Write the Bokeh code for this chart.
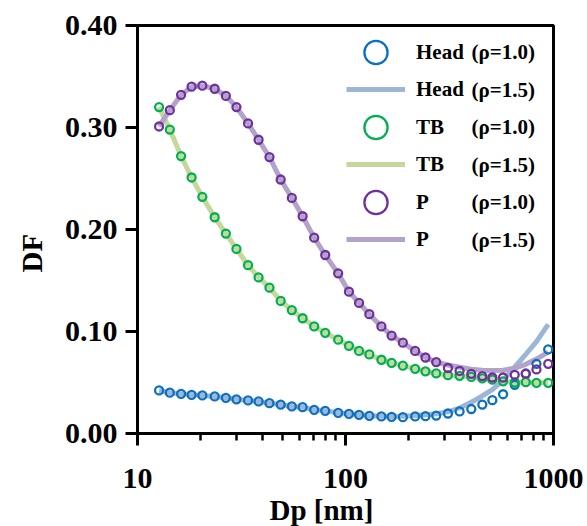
from bokeh.plotting import figure
from bokeh.models import (Range1d, FixedTicker, CustomJSTickFormatter, PrintfTickFormatter,
                          Legend, LegendItem, Label, Title)
from bokeh.embed import file_html
from bokeh.resources import INLINE

# ---- data ----
dp_nm = [12.7, 14.3, 16.2, 18.2, 20.5, 23.5, 26.6, 29.9, 34.0, 38.2, 43.1, 48.8,
         55.2, 62.2, 70.7, 79.9, 92.2, 103.9, 116.2, 130.2, 148.8, 166.6, 188.7, 216.2,
         242.4, 273.0, 310.8, 353.6, 402.5, 454.8, 508.2, 572.2, 651.0, 735.5, 828.1, 943.0]

head_rho10 = [0.0422, 0.0400, 0.0389, 0.0379, 0.0373, 0.0363, 0.0350, 0.0335, 0.0324, 0.0314,
              0.0297, 0.0284, 0.0265, 0.0258, 0.0232, 0.0222, 0.0203, 0.0193, 0.0183, 0.0173,
              0.0167, 0.0163, 0.0160, 0.0167, 0.0170, 0.0176, 0.0196, 0.0216, 0.0240, 0.0284,
              0.0327, 0.0385, 0.0478, 0.0585, 0.0683, 0.0824]
head_rho15 = [0.0422, 0.0400, 0.0389, 0.0379, 0.0373, 0.0363, 0.0350, 0.0335, 0.0324, 0.0314,
              0.0297, 0.0284, 0.0265, 0.0258, 0.0232, 0.0222, 0.0203, 0.0193, 0.0183, 0.0173,
              0.0168, 0.0167, 0.0170, 0.0176, 0.0183, 0.0193, 0.0212, 0.0250, 0.0306, 0.0368,
              0.0430, 0.0520, 0.0652, 0.0776, 0.0900, 0.1070]
tb_rho10 = [0.320, 0.298, 0.272, 0.251, 0.232, 0.212, 0.196, 0.181, 0.165, 0.153, 0.143, 0.130,
            0.121, 0.113, 0.105, 0.0987, 0.092, 0.086, 0.081, 0.0775, 0.0723, 0.0693, 0.0665,
            0.0634, 0.0610, 0.0590, 0.0572, 0.0565, 0.0555, 0.0540, 0.0528, 0.0512, 0.0500,
            0.0503, 0.0497, 0.0497]
tb_rho15 = [0.320, 0.298, 0.272, 0.251, 0.232, 0.212, 0.196, 0.181, 0.165, 0.153, 0.143, 0.130,
            0.121, 0.113, 0.105, 0.0987, 0.092, 0.086, 0.081, 0.0775, 0.0723, 0.0693, 0.0665,
            0.0634, 0.0610, 0.0590, 0.0572, 0.0565, 0.0555, 0.0540, 0.0528, 0.0512, 0.0500,
            0.0503, 0.0497, 0.0497]
p_rho10 = [0.301, 0.317, 0.332, 0.340, 0.341, 0.338, 0.331, 0.320, 0.304, 0.288, 0.271, 0.249,
           0.231, 0.213, 0.192, 0.175, 0.157, 0.139, 0.128, 0.117, 0.105, 0.096, 0.089, 0.081,
           0.0745, 0.0700, 0.0642, 0.0613, 0.0585, 0.0563, 0.0549, 0.0549, 0.0575, 0.0588,
           0.0628, 0.0683]
p_rho15 = [0.301, 0.317, 0.332, 0.340, 0.341, 0.338, 0.331, 0.320, 0.304, 0.288, 0.271, 0.249,
           0.231, 0.213, 0.192, 0.175, 0.157, 0.139, 0.128, 0.117, 0.105, 0.096, 0.089, 0.081,
           0.0745, 0.0700, 0.0672, 0.0650, 0.0630, 0.0620, 0.0618, 0.0620, 0.0640, 0.0678,
           0.0730, 0.0797]

x_major_ticks = [10, 100, 1000]
x_minor_ticks = [20, 30, 40, 50, 60, 70, 80, 90, 200, 300, 400, 500, 600, 700, 800, 900]
y_ticks = [0.0, 0.1, 0.2, 0.3, 0.4]

legend_names = ["Head", "Head", "TB", "TB", "P", "P"]
legend_rho = ["(\u03c1=1.0)", "(\u03c1=1.5)", "(\u03c1=1.0)", "(\u03c1=1.5)", "(\u03c1=1.0)", "(\u03c1=1.5)"]

# ---- styles ----
HEAD_C, HEAD_L = "#0A70C0", "#9DB6D8"
TB_C, TB_L = "#00B050", "#C4D89C"
P_C, P_L = "#7030A0", "#B3A3C9"
FONT = "Liberation Serif"

W, H = 587, 526
p = figure(width=W, height=H, x_axis_type="log",
           x_range=Range1d(10, 1000), y_range=Range1d(0, 0.4),
           output_backend="svg", toolbar_location=None,
           min_border_left=137, min_border_right=W - 553, min_border_top=25,
           min_border_bottom=H - 433)
p.grid.visible = False
p.outline_line_color = "black"
p.outline_line_width = 3
p.background_fill_color = "white"
p.border_fill_color = "white"

# lines (rho=1.5) below circles (rho=1.0)
r_hl = p.line(dp_nm, head_rho15, line_color=HEAD_L, line_width=5)
r_tl = p.line(dp_nm, tb_rho15, line_color=TB_L, line_width=5)
r_pl = p.line(dp_nm, p_rho15, line_color=P_L, line_width=5)
r_hc = p.scatter(dp_nm, head_rho10, marker="circle", size=8, fill_color=None, line_color=HEAD_C, line_width=2.3)
r_tc = p.scatter(dp_nm, tb_rho10, marker="circle", size=8, fill_color=None, line_color=TB_C, line_width=2.3)
r_pc = p.scatter(dp_nm, p_rho10, marker="circle", size=8, fill_color=None, line_color=P_C, line_width=2.3)

# axes
xa = p.xaxis[0]
xa.ticker = FixedTicker(ticks=x_major_ticks, minor_ticks=x_minor_ticks)
xa.formatter = CustomJSTickFormatter(code="return String(Math.round(tick));")
ya = p.yaxis[0]
ya.ticker = FixedTicker(ticks=y_ticks, minor_ticks=[])
ya.formatter = PrintfTickFormatter(format="%.2f")
for ax in (xa, ya):
    ax.axis_line_width = 3
    ax.axis_line_color = "black"
    ax.major_tick_line_width = 3
    ax.major_tick_line_color = "black"
    ax.major_tick_out = 12
    ax.major_tick_in = 0
    ax.major_label_text_font = FONT
    ax.major_label_text_font_style = "bold"
    ax.major_label_text_font_size = "30px"
    ax.major_label_text_color = "black"
xa.minor_tick_line_width = 2.5
xa.minor_tick_line_color = "black"
xa.minor_tick_out = 7
xa.minor_tick_in = 0
xa.major_label_standoff = 23
ya.minor_tick_line_color = None
ya.major_label_standoff = 8

# axis titles (side titles, offset along the frame like the reference)
p.add_layout(Title(text="Dp [nm]", align="left", offset=132, standoff=2,
                   vertical_align="bottom",
                   text_font=FONT, text_font_style="bold", text_font_size="29px",
                   text_color="black"), "below")
p.add_layout(Title(text="DF", align="left", offset=161, standoff=24,
                   vertical_align="top",
                   text_font=FONT, text_font_style="bold", text_font_size="29px",
                   text_color="black"), "left")

# legend: one single-row legend per entry, so rows can sit closer than the icon box
GLYPH_H = 58
PITCH = 37.5
LEG_X = 209
FIRST_ROW_CENTER = 381.3   # screen px above frame bottom
icon_renderers = [r_hc, r_hl, r_tc, r_tl, r_pc, r_pl]
for i, (nm, r, rho) in enumerate(zip(legend_names, icon_renderers, legend_rho)):
    yc = FIRST_ROW_CENTER - i * PITCH
    lg = Legend(items=[LegendItem(label=nm, renderers=[r])],
                location=(LEG_X, int(round(yc - GLYPH_H / 2))), orientation="vertical",
                glyph_width=59, glyph_height=GLYPH_H, label_standoff=11,
                label_height=20, padding=0, margin=0,
                border_line_color=None, background_fill_alpha=0,
                label_text_font=FONT, label_text_font_style="bold",
                label_text_font_size="21px", label_text_color="black")
    p.add_layout(lg)
    p.add_layout(Label(x=334, y=yc, x_units="screen", y_units="screen", text=rho,
                       text_align="left", text_baseline="middle", text_font=FONT,
                       text_font_style="bold", text_font_size="21px", text_color="black"))

open("out.html", "w").write(file_html(p, INLINE))
